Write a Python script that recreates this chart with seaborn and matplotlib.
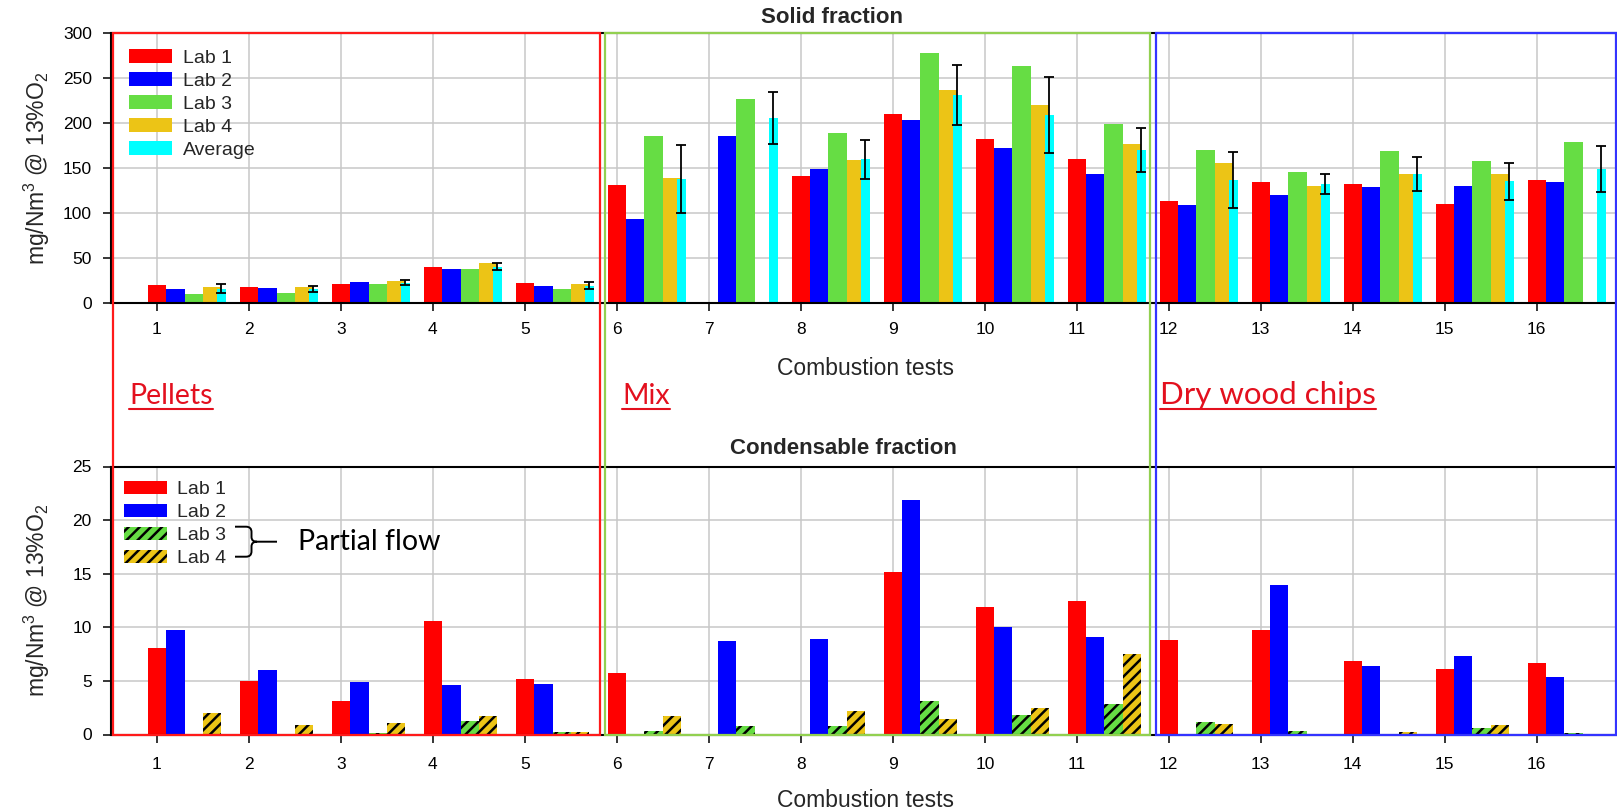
import numpy as np
import pandas as pd
import seaborn as sns
import matplotlib
matplotlib.use("Agg")
import matplotlib.pyplot as plt
from matplotlib.patches import Patch, Rectangle, PathPatch
from matplotlib.path import Path
from matplotlib.lines import Line2D

# ---------------------------------------------------------------- data
tests = list(range(1, 17))
labs = ["Lab 1", "Lab 2", "Lab 3", "Lab 4"]

# Solid fraction, mg/Nm3 @ 13% O2
solid_lab1 = [20, 17, 21, 40, 22, 131.5, 0, 141.5, 210, 182, 159.7, 113.3, 134.4, 132.6, 110.3, 136.6]
solid_lab2 = [15, 16, 23, 38, 19, 92.8, 185.3, 148.5, 203, 172.7, 143.7, 108.8, 120.3, 128.5, 130.3, 134.4]
solid_lab3 = [10, 11, 21, 38, 15, 186, 226.5, 189, 277.8, 264, 199, 170, 145.6, 169, 157.8, 179]
solid_lab4 = [17, 17, 24, 44, 21, 139, 0, 158.6, 237, 220.6, 176.8, 155.6, 130.3, 143.3, 143.3, 0]
solid_avg = [15.4, 15.4, 22, 40, 19, 137.4, 205.3, 159.7, 231.3, 209, 170, 136.6, 132.2, 143.3, 135.2, 149.3]
solid_err = [5.0, 3.2, 2.8, 3.7, 3.7, 38, 29, 21.4, 33.8, 42, 24.7, 31, 11, 18.7, 20.6, 25.5]

# Condensable fraction, mg/Nm3 @ 13% O2
cond_lab1 = [8.1, 5.0, 3.1, 10.56, 5.2, 5.75, 0, 0, 15.15, 11.93, 12.42, 8.85, 9.78, 6.83, 6.15, 6.68]
cond_lab2 = [9.72, 6.0, 4.9, 4.63, 4.75, 0, 8.73, 8.88, 21.83, 10.03, 9.13, 0, 13.94, 6.4, 7.33, 5.37]
cond_lab3 = [0, 0, 0.1, 1.27, 0.19, 0.34, 0.78, 0.78, 3.14, 1.8, 2.8, 1.12, 0.31, 0, 0.62, 0.15]
cond_lab4 = [1.96, 0.93, 1.05, 1.74, 0.25, 1.7, 0, 2.2, 1.46, 2.45, 7.52, 1.02, 0.05, 0.22, 0.93, 0]

groups = ["Pellets", "Mix", "Dry wood chips"]
solid_yticks = [0, 50, 100, 150, 200, 250, 300]
cond_yticks = [0, 5, 10, 15, 20, 25]

lab_colors = ["#ff0000", "#0000ff", "#66dd44", "#ecc416"]
avg_color = "#00ffff"
grid_color = "#c8c8c8"
group_red = "#e3101e"

# ---------------------------------------------------------------- style
W, H = 1617, 811
sns.set_theme(style="white")
plt.rcParams["font.family"] = ["Liberation Sans", "DejaVu Sans"]
plt.rcParams["mathtext.default"] = "regular"
plt.rcParams["hatch.linewidth"] = 1.8
plt.rcParams["hatch.color"] = "black"

fig = plt.figure(figsize=(W / 100, H / 100), dpi=100)


def fx(x):
    return x / W


def fy(y):
    return 1 - y / H


ax_left = fx(111)
ax_width = fx(1619.5) - ax_left
ax_top = fig.add_axes([ax_left, fy(302.7), ax_width, (302.7 - 33.3) / H])
ax_bot = fig.add_axes([ax_left, fy(734.5), ax_width, (734.5 - 466.5) / H])


def long_frame(series):
    rows = []
    for lab, vals in zip(labs, series):
        for t, v in zip(tests, vals):
            rows.append({"test": t, "lab": lab, "value": v})
    df = pd.DataFrame(rows)
    # groups start with Lab 1 on the tick
    df["pos"] = df["test"] + 0.3
    return df


solid_df = long_frame([solid_lab1, solid_lab2, solid_lab3, solid_lab4])
cond_df = long_frame([cond_lab1, cond_lab2, cond_lab3, cond_lab4])

# ---------------------------------------------------------------- solid fraction
sns.barplot(data=solid_df, x="pos", y="value", hue="lab", hue_order=labs,
            palette=lab_colors, native_scale=True, width=0.8, dodge=True,
            errorbar=None, saturation=1, linewidth=0, legend=False, ax=ax_top)
avg_pos = np.array(tests) + 0.7
sns.barplot(x=avg_pos, y=solid_avg, native_scale=True, width=0.1,
            color=avg_color, saturation=1, linewidth=0, errorbar=None, ax=ax_top)
ax_top.errorbar(avg_pos, solid_avg, yerr=solid_err, fmt="none", ecolor="black",
                elinewidth=1.3, capsize=3.4, capthick=1.3, zorder=5)

# ---------------------------------------------------------------- condensable fraction
sns.barplot(data=cond_df, x="pos", y="value", hue="lab", hue_order=labs,
            palette=lab_colors, native_scale=True, width=0.8, dodge=True,
            errorbar=None, saturation=1, linewidth=0, legend=False, ax=ax_bot)
for cont in ax_bot.containers[2:4]:
    for bar in cont:
        bar.set_hatch("///")
        bar.set_edgecolor("black")
        bar.set_linewidth(0)

# ---------------------------------------------------------------- axes cosmetics
for ax, yt, xpad in ((ax_top, solid_yticks, 8.5), (ax_bot, cond_yticks, 11.0)):
    ax.set_xlim(0.5, 16.9)
    ax.set_ylim(yt[0], yt[-1])
    ax.set_xticks(tests)
    ax.set_xticklabels([str(t) for t in tests])
    ax.set_yticks(yt)
    ax.set_yticklabels([str(v) for v in yt])
    ax.set_axisbelow(True)
    ax.grid(True, color=grid_color, linewidth=1.1)
    ax.tick_params(axis="x", direction="out", length=5.5, width=1.1, colors="black",
                   labelsize=12.5, pad=xpad, bottom=True)
    ax.tick_params(axis="y", direction="out", length=5.8, width=1.1, colors="black",
                   labelsize=12.5, pad=8, left=True)
    for side in ("left", "bottom", "top"):
        ax.spines[side].set_visible(True)
        ax.spines[side].set_color("black")
        ax.spines[side].set_linewidth(1.5)
    ax.spines["right"].set_visible(False)
    ax.set_xlabel("Combustion tests", fontsize=16.5)
    ax.xaxis.label.set_va("baseline")
    ax.xaxis.set_label_coords(0.5, -0.2695)
    ax.set_ylabel("mg/Nm$^3$ @ 13%O$_2$", fontsize=16.5)
    ax.yaxis.label.set_va("baseline")
    ax.yaxis.set_label_coords((45 - 111) / (1619.5 - 111), 0.5)

fig.text(fx(832), fy(22.7), "Solid fraction", ha="center", va="baseline",
         fontsize=16, fontweight="bold")
fig.text(fx(843.5), fy(454.3), "Condensable fraction", ha="center", va="baseline",
         fontsize=16, fontweight="bold")

# ---------------------------------------------------------------- legends
legend_kw = dict(loc="upper left", bbox_transform=fig.transFigure, frameon=False,
                 fontsize=14, handlelength=2.21, handleheight=0.69,
                 handletextpad=0.53, labelspacing=0.28, borderpad=0, borderaxespad=0)

top_handles = [Patch(facecolor=c, edgecolor="none", label=l) for c, l in zip(lab_colors, labs)]
top_handles.append(Patch(facecolor=avg_color, edgecolor="none", label="Average"))
ax_top.legend(handles=top_handles, bbox_to_anchor=(fx(129.3), fy(49.5)), **legend_kw)

bot_handles = [Patch(facecolor=lab_colors[0], edgecolor="none", label=labs[0]),
               Patch(facecolor=lab_colors[1], edgecolor="none", label=labs[1]),
               Patch(facecolor=lab_colors[2], edgecolor="black", linewidth=0,
                     hatch="///", label=labs[2]),
               Patch(facecolor=lab_colors[3], edgecolor="black", linewidth=0,
                     hatch="///", label=labs[3])]
ax_bot.legend(handles=bot_handles, bbox_to_anchor=(fx(124), fy(480.8)), **legend_kw)

# brace grouping the partial-flow labs
bx = [235, 246, 251.5, 251.5, 251.5, 251.5, 257, 277,
      257, 251.5, 251.5, 251.5, 251.5, 246, 235]
by = [526.7, 526.7, 526.7, 532, 537, 541.7, 541.7, 541.7,
      541.7, 541.7, 546.4, 551.4, 556.7, 556.7, 556.7]
codes = [Path.MOVETO, Path.LINETO, Path.CURVE3, Path.CURVE3, Path.LINETO,
         Path.CURVE3, Path.CURVE3, Path.LINETO,
         Path.MOVETO, Path.CURVE3, Path.CURVE3, Path.LINETO, Path.CURVE3,
         Path.CURVE3, Path.LINETO]
brace = Path([(fx(a), fy(b)) for a, b in zip(bx, by)], codes)
fig.add_artist(PathPatch(brace, facecolor="none", edgecolor="black", linewidth=1.4,
                         transform=fig.transFigure, zorder=6))
fig.text(fx(298.3), fy(541.7), "Partial flow", ha="left", va="center",
         fontsize=20.5, family=["Lato", "DejaVu Sans"], color="black")

# ---------------------------------------------------------------- fuel groups
frames = [((113.3, 33), (600.4, 734.5), "#ff1a1a"),
          ((605, 33), (1150, 734.5), "#92d050"),
          ((1156, 33), (1616, 734.5), "#3333ff")]
for (x0, y0), (x1, y1), col in frames:
    fig.add_artist(Rectangle((fx(x0), fy(y1)), fx(x1) - fx(x0), fy(y0) - fy(y1),
                             transform=fig.transFigure, fill=False, edgecolor=col,
                             linewidth=1.6, zorder=7))

group_x = [129.3, 622, 1160]
group_size = [20.5, 20.5, 22.5]
group_texts = []
for name, gx, gs in zip(groups, group_x, group_size):
    t = fig.text(fx(gx), fy(404.3), name, ha="left", va="baseline", fontsize=gs,
                 family=["Lato", "DejaVu Sans"], color=group_red)
    group_texts.append(t)

renderer = fig.canvas.get_renderer()
for t in group_texts:
    bb = t.get_window_extent(renderer=renderer)
    fig.add_artist(Line2D([bb.x0 / W, bb.x1 / W], [fy(409), fy(409)],
                          transform=fig.transFigure, color=group_red, linewidth=1.5))

fig.savefig("out.png", dpi=100)
